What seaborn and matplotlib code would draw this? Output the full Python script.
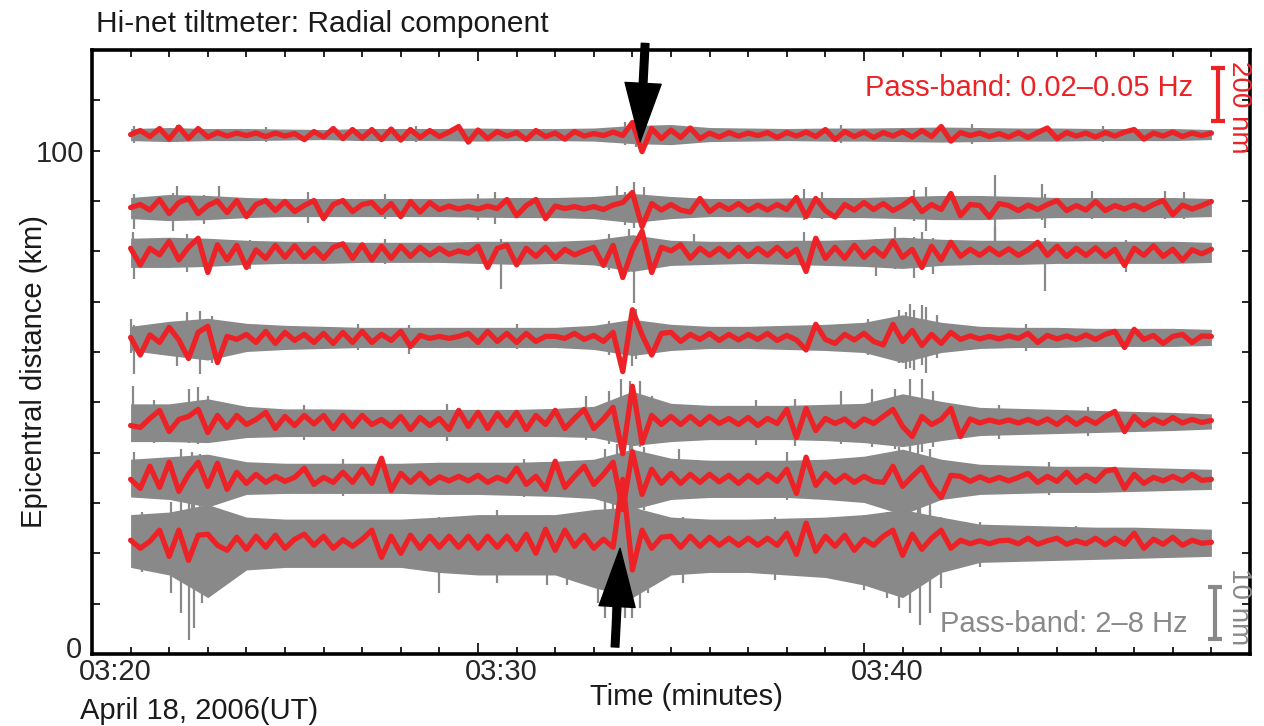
import numpy as np
import pandas as pd
import matplotlib
matplotlib.use("Agg")
import matplotlib.pyplot as plt
import matplotlib.transforms as mtransforms
from matplotlib.patches import FancyArrowPatch
import seaborn as sns

# ==================================================
# Hi-net tiltmeter record, radial component
# time is given in minutes after 03:20 UT
# ==================================================
station_dist = [103.2, 88.7, 79.8, 62.9, 46.2, 34.7, 22.2]   # km

red_start, red_step = 1.0, 0.25      # 0.02-0.05 Hz traces, one value per 15 s
env_start, env_step = 1.0, 1.0       # 2-8 Hz envelope, one value per minute

# long-period (0.02-0.05 Hz) traces, offset from the station distance
red_1 = [0, 0.8, -0.4, 1.2, -0.9, 1.5, -0.8, 1.2, -0.5, 0.4, -0.3, 0.3, -0.2, 0.3, -0.4, 0.3,
         -0.3, 0.2, -1.0, 0.6, -0.5, 1.2, -0.8, 1.0, -0.7, 1.0, -1.0, 1.1, -1.1, 1.0, -0.6, 0.8,
         -0.4, 0.5, 1.6, -1.5, 0.9, -0.8, 0.6, -0.3, 0.4, -1.0, 0.8, -0.4, 0.3, -0.9, 0.6, -0.3,
         0.2, -0.2, 0.5, -0.2, 2.4, -3.4, 1.2, -0.8, 0.9, -0.6, 1.3, -0.8, 0.3, -0.5, 0.4, -0.3,
         0.3, -0.2, 0.4, -0.6, 0.4, -0.3, 0.5, -0.4, 1.0, -1.0, 0.6, -0.4, 0.5, -0.6, 0.4, -0.3,
         0.6, -0.5, 0.8, -0.4, 1.6, -1.3, 0.4, -0.2, 0.3, -0.4, 0.2, -0.5, 0.4, -0.6, 0.4, 1.3,
         -0.8, 0.4, -0.3, 0.3, -0.5, 0.4, -0.3, 0.5, 1.0, -0.9, 0.3, -0.3, 0.5, -0.4, 0.3, -0.2,
         0.3]
red_2 = [0, 0.6, -0.5, 1.6, -1.2, 1.0, 1.8, -1.2, 0.4, 1.3, -1.0, 1.4, -1.8, 0.6, 1.4, -0.6,
         1.2, -0.8, 0.4, 1.4, -2.2, 0.6, 1.4, -0.8, 0.6, 1.0, -1.0, 0.8, -1.8, 1.2, -0.9, 1.0,
         -0.4, 0.3, -0.3, 0.2, -0.3, 0.3, -0.2, 1.6, -1.6, 0.4, 1.6, -2.2, 0.3, -0.2, 0.2, -0.3,
         0.2, -0.4, 0.5, 1.0, 3.0, -3.8, 0.8, -0.5, 0.6, -0.5, -0.9, 1.8, -0.8, 0.6, -0.4, 0.8,
         -0.6, 0.5, -0.5, 0.6, -0.4, 2.0, -1.8, 1.8, -0.6, -1.9, 0.6, -0.5, 1.0, -0.4, 0.8, -0.6,
         0.4, 1.8, -0.8, 0.6, -0.4, 2.8, -1.6, 0.6, 0.4, -1.9, 0.8, 0.4, -0.6, 0.5, -0.4, 0.6,
         1.4, -0.6, 0.4, -0.5, 1.2, -0.6, 0.4, -0.3, 0.5, -0.4, 0.6, 1.4, -1.4, 0.5, -0.3, 0.4,
         1.2]
red_3 = [0.8, -2.5, 0.8, -0.5, 2.2, -1.5, 1.0, 2.8, -4.0, 1.5, -1.5, 1.4, -3.0, 0.5, -1.2, 1.4,
         -1.0, 1.3, -1.0, 0.8, -1.2, 1.0, 1.7, -1.2, 1.5, -1.5, 1.2, -1.2, 1.2, -0.8, 1.0, -0.5,
         0.8, -0.4, 0.3, -0.2, 1.2, -3.0, 0.8, 1.4, -2.5, 0.8, -0.8, 1.0, -1.2, 0.6, -0.5, 0.3,
         1.0, -2.6, 1.4, -5.0, 0.5, 4.2, -4.0, 1.0, 0.3, 1.5, -1.2, 0.8, -0.6, 0.8, -0.8, 1.0,
         -0.8, 0.8, -0.6, 1.0, -0.8, 0.6, -3.8, 2.8, -1.2, 1.0, -1.2, 1.4, -1.0, 0.8, -0.8, 2.2,
         -1.0, 0.6, -3.0, 1.2, -1.5, 2.0, -0.8, 0.6, -0.6, 0.8, -0.5, 0.7, -0.6, 0.5, 2.0, -0.6,
         1.2, -0.8, 0.8, -0.6, 0.9, -0.8, 0.6, -2.6, 0.8, -0.6, 1.3, -0.8, 0.6, -1.6, 0.5, -0.3,
         0.6]
red_4 = [0, -3.5, 0.5, -1.0, 2.0, -0.5, -4.2, 1.0, 2.2, -5.0, 0.2, -0.4, 0.6, -1.0, 1.2, -1.2,
         1.0, -0.6, 0.6, -1.0, 0.8, -1.2, 1.0, -1.0, 1.2, -1.0, 0.6, -0.6, 1.2, -1.8, 0.4, -0.2,
         0.2, -0.2, 0.2, 0.8, -1.0, 1.2, -0.8, 0.8, -1.0, 0.8, -0.8, 0.2, 0.2, -0.2, 0.8, -0.4,
         0.4, -0.8, 1.0, -6.8, 5.5, 0.5, -3.5, 0.8, 1.0, -0.8, 0.6, -0.4, 0.8, -0.6, 0.6, -0.5,
         0.6, -0.4, 0.8, -0.6, 0.4, -0.5, -2.5, 2.6, -0.4, -1.2, 0.6, -0.5, 0.8, -0.8, -1.5, 2.6,
         -0.8, 1.4, -1.6, 0.6, -1.2, 1.0, -0.4, 0.3, -0.3, 0.2, -0.3, 0.3, -0.2, 0.8, -1.0, 0.4,
         -0.3, 0.3, -0.4, 0.5, -0.4, 0.6, 1.2, -2.0, 1.6, -0.4, 0.4, -1.2, 0.2, 0.6, -1.0, 0.3,
         0.2]
red_5 = [-0.8, -1.2, 0.6, 2.2, -2.0, 0.4, 1.0, 2.4, -2.2, 1.2, -1.2, 1.2, -0.6, 0.4, 1.8, -1.4,
         1.0, -0.8, 1.2, -0.5, 1.2, -1.4, 1.2, -1.0, 1.2, -0.6, 0.4, -1.0, 1.0, -1.6, 0.8, -0.8,
         0.6, -1.6, 2.2, -1.0, 1.8, -1.4, 1.6, -0.8, 1.8, -1.6, 1.2, -0.6, 2.2, -1.4, 0.6, 2.4,
         -1.4, 0.5, 2.8, -6.4, 7.0, -4.3, 1.2, -0.6, 1.0, -0.6, 1.0, -0.6, 1.0, -0.4, 0.6, -0.6,
         0.8, -0.8, 0.6, -0.4, 2.4, -3.2, 2.6, -1.8, 0.6, -0.4, 0.5, -1.0, 0.5, -0.4, 1.0, 2.4,
         -1.0, -3.0, 1.0, -0.6, 0.4, 2.6, -3.0, 0.5, -0.3, 0.3, -0.2, 0.3, -0.3, 0.4, -0.4, 0.5,
         -0.6, 0.8, -0.6, 0.6, -0.4, 1.0, 2.0, -2.0, 1.0, -0.8, 0.5, -0.4, 0.8, -0.3, 0.4, -0.2,
         0.2]
red_6 = [0, -1.8, 2.6, -1.6, 3.4, -2.4, 1.0, 3.4, -1.4, 3.2, -2.0, 1.4, -0.8, 1.0, -0.6, 0.6,
         -0.4, 0.4, 2.2, -1.0, 0.4, -0.6, 1.4, -0.6, 2.0, -0.8, 4.2, -2.2, 1.2, -0.6, 1.2, -0.8,
         0.5, -0.3, 0.6, -0.3, 0.8, -0.6, 0.4, -0.4, 2.2, -1.0, 0.6, -2.0, 3.6, -1.6, 0.6, 2.6,
         -1.0, 1.0, 3.4, -6.0, 5.5, -3.0, 2.0, -0.8, 1.2, -0.8, 1.0, -0.6, 1.0, -0.5, 0.8, -0.8,
         0.8, -0.6, 1.0, -0.4, 2.0, -2.8, 4.4, -1.2, 1.2, -0.6, 0.8, -0.6, 0.6, -0.4, -0.6, 2.6,
         -1.4, 0.6, 2.4, -1.2, -3.6, 0.8, 0.6, -0.4, 0.5, -0.3, 0.4, -0.3, 0.4, 1.2, -0.6, 0.6,
         -0.4, 1.4, -0.6, 0.8, -0.4, 1.6, 2.0, -1.8, 1.0, -0.8, 0.4, -0.3, 0.6, -0.3, 1.0, -0.2,
         0]
red_7 = [0.4, -1.2, 0.2, 2.4, -2.8, 2.4, -3.6, 1.4, 1.6, -0.6, -1.6, 1.0, -1.4, 1.2, -1.0, 1.4,
         -1.2, 0.6, 1.6, -0.6, 1.2, -1.2, 0.5, -0.8, 0.6, 2.4, -3.0, 1.2, -2.2, 1.4, -1.2, 1.2,
         -1.0, 1.2, -1.0, 1.2, -1.2, 1.2, -1.0, 1.2, -1.4, 1.6, -2.2, 2.6, -1.6, 2.4, -0.8, 1.4,
         -1.2, 0.6, -1.0, 12.5, -5.5, 2.4, -1.2, 1.0, 1.2, -1.0, 1.2, -0.8, 1.0, -0.6, 0.8, -0.6,
         0.8, -0.6, 0.8, -0.6, 1.8, -2.4, 3.8, -1.8, 1.2, -0.8, 1.4, -1.6, 0.6, -0.6, 1.2, 2.4,
         -2.6, 1.6, -1.4, 0.8, 2.4, -1.2, 0.4, -0.3, 0.3, -0.3, 0.3, 0.4, -0.3, 0.8, -0.4, 0.3,
         0.8, -0.4, 0.3, -0.3, 0.8, -0.5, 0.8, -0.4, 1.8, -1.2, 0.6, -0.4, 1.0, -0.6, 0.4, -0.2,
         0]

# short-period (2-8 Hz) band: upper / lower extent per minute
up_1 = [1.2, 1.4, 1.2, 1.2, 1.1, 1.0, 1.2, 1.2, 1.2, 1.3, 1.2, 1.2, 1.3, 1.8, 2.0, 1.4, 1.3, 1.2, 1.3, 1.3, 1.4, 1.5, 1.4, 1.3, 1.3, 1.2, 1.2, 1.2, 1.0]
dn_1 = [1.2, 1.4, 1.2, 1.2, 1.1, 1.0, 1.2, 1.2, 1.2, 1.3, 1.2, 1.2, 1.3, 1.8, 2.0, 1.4, 1.3, 1.2, 1.3, 1.3, 1.4, 1.5, 1.4, 1.3, 1.3, 1.2, 1.2, 1.2, 1.0]
up_2 = [2.0, 2.6, 2.4, 2.0, 1.8, 1.8, 1.8, 1.8, 1.8, 1.9, 2.0, 2.0, 2.2, 2.8, 2.2, 1.8, 1.8, 1.9, 2.0, 2.0, 2.2, 2.4, 2.4, 2.2, 2.0, 2.0, 2.0, 2.0, 1.8]
dn_2 = [2.2, 2.6, 2.4, 2.0, 1.8, 1.8, 1.8, 1.8, 1.8, 1.9, 2.0, 2.0, 2.2, 3.0, 2.2, 1.8, 1.8, 1.9, 2.0, 2.0, 2.2, 2.4, 2.4, 2.2, 2.0, 2.0, 2.0, 2.0, 1.8]
up_3 = [2.8, 3.0, 2.8, 2.4, 2.2, 2.2, 2.0, 2.0, 2.0, 2.2, 2.2, 2.2, 2.5, 3.5, 2.4, 2.2, 2.2, 2.4, 2.4, 2.6, 3.0, 2.6, 2.4, 2.4, 2.2, 2.2, 2.2, 2.2, 2.0]
dn_3 = [3.0, 3.0, 2.8, 2.4, 2.2, 2.2, 2.0, 2.0, 2.0, 2.2, 2.4, 2.2, 2.5, 3.8, 2.6, 2.4, 2.2, 2.4, 2.6, 2.8, 3.2, 2.6, 2.4, 2.4, 2.2, 2.2, 2.2, 2.2, 2.0]
up_4 = [2.2, 3.2, 3.8, 2.8, 2.4, 2.2, 2.0, 2.0, 2.0, 2.0, 2.0, 2.0, 2.4, 3.6, 2.6, 2.2, 2.2, 2.4, 2.6, 3.0, 4.5, 3.0, 2.2, 2.0, 2.0, 1.8, 1.8, 1.8, 1.6]
dn_4 = [2.6, 3.6, 4.5, 2.8, 2.4, 2.2, 2.0, 2.0, 2.0, 2.0, 2.0, 2.0, 2.4, 3.6, 2.6, 2.2, 2.2, 2.4, 2.6, 3.0, 5.0, 3.0, 2.2, 2.0, 2.0, 1.8, 1.8, 1.8, 1.6]
up_5 = [3.5, 3.5, 4.5, 3.0, 2.5, 2.5, 2.4, 2.4, 2.4, 2.4, 2.4, 2.6, 3.0, 6.0, 3.6, 3.2, 3.2, 3.2, 3.4, 3.6, 5.5, 4.0, 2.8, 2.6, 2.4, 2.2, 2.0, 1.8, 1.5]
dn_5 = [4.0, 4.0, 4.2, 3.2, 3.0, 3.0, 3.0, 3.0, 3.0, 3.0, 3.0, 3.0, 3.2, 4.8, 4.0, 3.6, 3.6, 3.6, 3.8, 4.2, 5.0, 3.8, 2.8, 2.6, 2.4, 2.2, 2.0, 1.8, 1.5]
up_6 = [4.0, 4.5, 5.0, 3.5, 3.2, 3.2, 3.2, 3.2, 3.4, 3.4, 3.4, 3.6, 4.0, 6.0, 4.2, 3.8, 3.8, 3.8, 4.0, 4.6, 6.0, 4.0, 3.0, 2.8, 2.6, 2.6, 2.4, 2.2, 2.0]
dn_6 = [3.5, 4.0, 5.5, 3.0, 2.8, 2.8, 2.8, 2.8, 3.0, 3.0, 3.2, 3.4, 3.8, 6.0, 4.0, 3.6, 3.6, 3.6, 4.0, 4.6, 7.0, 4.0, 3.0, 2.8, 2.6, 2.6, 2.4, 2.2, 2.0]
up_7 = [5.5, 6.0, 7.5, 5.0, 4.6, 4.6, 4.6, 4.6, 5.0, 5.5, 5.5, 5.5, 6.5, 7.0, 5.0, 4.6, 4.6, 4.8, 5.0, 5.5, 6.5, 5.0, 3.6, 3.4, 3.2, 3.0, 3.0, 2.8, 2.6]
dn_7 = [5.0, 6.5, 11.0, 5.5, 5.0, 5.0, 5.0, 5.0, 6.0, 6.5, 6.5, 6.5, 9.0, 11.0, 6.5, 6.0, 6.0, 6.5, 7.0, 8.5, 11.0, 6.0, 4.0, 3.8, 3.6, 3.4, 3.2, 3.0, 2.8]

# isolated 2-8 Hz spikes, one row per station: minute, top, bottom (offset from trace)
spk_t_1 = [1.1, 2.2, 4.5, 8.4, 13.8, 14.1, 19.4, 22.8, 26.2]
spk_hi_1 = [1.8, 1.9, 1.6, 1.7, 2.4, 2.8, 1.9, 2.0, 1.7]
spk_lo_1 = [-1.6, -1.5, -1.4, -1.5, -2.0, -2.4, -1.6, -1.8, -1.5]
spk_t_2 = [1.1, 2.1, 2.2, 2.9, 3.3, 5.6, 7.6, 10.0, 10.45, 13.6, 13.8, 14.05, 14.3, 18.45, 18.9,
           21.3, 21.6, 23.4, 24.6, 24.7, 25.9, 27.8, 28.3]
spk_hi_2 = [2.6, 2.8, 4.3, 2.4, 4.3, 3.0, 2.7, 2.7, 3.0, 4.3, 3.0, 5.0, 4.0, 3.7, 3.0,
            3.4, 4.0, 6.5, 4.7, 2.6, 3.2, 3.2, 3.0]
spk_lo_2 = [-4.3, -4.7, -2.0, -3.2, -2.0, -3.0, -2.2, -2.4, -3.2, -2.6, -3.5, -4.0, -3.5, -2.4, -2.2,
            -2.6, -4.7, -7.3, -2.4, -4.0, -2.2, -2.2, -2.2]
spk_t_3 = [1.05, 1.1, 2.45, 2.8, 4.1, 7.6, 10.6, 13.4, 13.9, 14.05, 15.6, 18.45, 20.3, 20.8, 21.3,
           21.5, 21.8, 23.4, 24.7, 26.8]
spk_hi_3 = [4.0, 2.6, 3.7, 2.6, 2.4, 2.7, 2.6, 3.7, 4.7, 3.0, 3.7, 4.0, 2.6, 5.0, 3.0,
            4.0, 2.8, 5.0, 2.8, 2.4]
spk_lo_3 = [-3.0, -5.3, -4.0, -3.0, -3.3, -2.4, -7.3, -3.6, -4.0, -10.0, -2.6, -3.0, -4.7, -3.4, -5.0,
            -3.6, -4.4, -2.6, -7.7, -4.0]
spk_t_4 = [1.0, 1.1, 2.2, 2.45, 2.8, 3.1, 6.9, 8.2, 11.0, 13.4, 14.0, 14.1, 20.1, 20.9, 21.1,
           21.2, 21.3, 21.5, 21.6, 21.9, 24.2]
spk_hi_4 = [3.7, 2.4, 3.0, 5.0, 5.3, 4.2, 2.7, 2.4, 2.7, 3.3, 4.0, 5.7, 3.7, 5.5, 5.0,
            6.7, 5.5, 6.5, 6.0, 4.5, 2.6]
spk_lo_4 = [-3.0, -7.3, -5.7, -4.0, -7.3, -5.0, -2.6, -3.3, -2.4, -3.4, -5.7, -4.2, -3.4, -5.0, -6.3,
            -6.0, -6.5, -5.5, -7.0, -4.0, -2.8]
spk_t_5 = [1.05, 1.6, 2.5, 2.75, 3.0, 5.5, 9.2, 12.8, 13.4, 13.7, 13.95, 14.2, 14.5, 17.2, 18.2,
           19.4, 20.2, 20.8, 21.2, 21.5, 21.8, 23.5, 25.8]
spk_hi_5 = [7.0, 4.2, 6.5, 6.8, 5.0, 3.2, 3.4, 5.0, 6.0, 8.5, 8.0, 8.0, 5.0, 4.2, 4.5,
            6.0, 6.5, 6.5, 8.5, 8.5, 6.0, 3.2, 2.8]
spk_lo_5 = [-3.5, -4.2, -4.2, -4.5, -4.0, -3.6, -3.8, -3.6, -4.5, -5.0, -6.0, -5.0, -4.5, -4.6, -4.8,
            -4.4, -5.0, -5.5, -5.5, -6.0, -5.0, -3.4, -2.8]
spk_t_6 = [1.1, 2.3, 2.6, 2.8, 6.5, 11.2, 13.3, 13.6, 14.0, 14.3, 15.2, 18.0, 20.9, 21.2, 21.4,
           21.7, 24.8]
spk_hi_6 = [5.5, 6.0, 5.5, 5.0, 4.0, 4.0, 6.0, 7.0, 7.5, 6.5, 6.0, 5.5, 6.5, 6.5, 7.0,
            6.0, 3.4]
spk_lo_6 = [-3.5, -4.0, -9.0, -8.0, -3.4, -3.6, -6.0, -7.0, -6.5, -6.0, -4.0, -4.2, -6.0, -8.0, -8.0,
            -7.5, -3.2]
spk_t_7 = [1.3, 2.05, 2.3, 2.5, 2.65, 2.85, 3.1, 9.0, 10.5, 11.8, 12.3, 13.1, 13.3, 13.5, 13.65,
           13.8, 14.0, 14.2, 14.4, 15.3, 17.7, 20.0, 20.6, 20.9, 21.2, 21.45, 21.7, 22.0, 23.0, 25.5]
spk_hi_7 = [6.0, 8.0, 9.0, 10.0, 8.0, 7.0, 6.0, 5.0, 6.5, 5.5, 5.5, 6.0, 8.0, 8.0, 9.0,
            7.0, 7.0, 6.0, 5.0, 5.0, 5.0, 5.5, 6.0, 7.0, 7.5, 7.0, 6.5, 5.0, 4.0, 3.2]
spk_lo_7 = [-6.0, -10.0, -14.0, -19.5, -17.0, -12.0, -8.0, -10.0, -8.0, -8.5, -8.5, -12.0, -15.0, -16.0, -17.0,
            -15.0, -15.0, -13.0, -10.0, -8.0, -7.5, -9.5, -11.0, -13.0, -14.0, -16.5, -14.0, -9.0, -5.0, -3.6]

tick_minutes = [0, 10, 20, 30]
tick_names = ["03:20", "03:30", "03:40", ""]

red_c = "#ec2227"
gray_c = "#898989"

sns.set_theme(style="ticks")
plt.rcParams["font.family"] = ["Liberation Sans", "DejaVu Sans"]
plt.rcParams["font.size"] = 21

reds = [red_1, red_2, red_3, red_4, red_5, red_6, red_7]
ups = [up_1, up_2, up_3, up_4, up_5, up_6, up_7]
dns = [dn_1, dn_2, dn_3, dn_4, dn_5, dn_6, dn_7]
spikes = [(spk_t_1, spk_hi_1, spk_lo_1), (spk_t_2, spk_hi_2, spk_lo_2), (spk_t_3, spk_hi_3, spk_lo_3),
          (spk_t_4, spk_hi_4, spk_lo_4), (spk_t_5, spk_hi_5, spk_lo_5), (spk_t_6, spk_hi_6, spk_lo_6),
          (spk_t_7, spk_hi_7, spk_lo_7)]

rows = []
for k, (d, vals) in enumerate(zip(station_dist, reds)):
    for i, v in enumerate(vals):
        rows.append({"station": k, "minute": red_start + i * red_step, "tilt": d + v})
red_df = pd.DataFrame(rows)

fig = plt.figure(figsize=(12.64, 7.26), dpi=100)
ax = fig.add_axes([92 / 1264, 72 / 726, 1158 / 1264, 604 / 726])

# gray 2-8 Hz band
for d, up, dn, (st, sh, sl) in zip(station_dist, ups, dns, spikes):
    t_env = env_start + env_step * np.arange(len(up))
    ax.fill_between(t_env, d + np.array(up), d - np.array(dn), color=gray_c, lw=0, zorder=1)
    ax.vlines(st, d + np.array(sl), d + np.array(sh), color=gray_c, lw=1.6, zorder=1)

# red 0.02-0.05 Hz traces
sns.lineplot(data=red_df, x="minute", y="tilt", units="station", estimator=None,
             sort=False, color=red_c, lw=3.8, ax=ax, zorder=3,
             solid_joinstyle="round", solid_capstyle="round")

ax.set_xlim(0, 30)
ax.set_ylim(0, 120)
ax.set_xlabel("")
ax.set_ylabel("")

ax.set_xticks(tick_minutes, tick_names)
ax.set_xticks(np.arange(0, 31, 1), minor=True)
ax.set_yticks(np.arange(0, 121, 10))
ax.set_yticklabels(["0" if v == 0 else "100" if v == 100 else "" for v in range(0, 121, 10)])
ax.tick_params(axis="both", which="both", direction="in", top=True, right=True,
               width=1.2, color="black", labelsize=21, pad=6)
ax.tick_params(axis="x", which="major", length=8, pad=3)
ax.tick_params(axis="x", which="minor", length=5)
ax.tick_params(axis="y", which="major", length=6)
for s in ax.spines.values():
    s.set_linewidth(2.6)
    s.set_color("black")

shift = mtransforms.ScaledTranslation(0.23, 0, fig.dpi_scale_trans)
for lbl in ax.get_xticklabels():
    lbl.set_transform(lbl.get_transform() + shift)
# the "0" label sits a little above the bottom spine
zero_lbl = ax.get_yticklabels()[0]
zero_lbl.set_transform(zero_lbl.get_transform() +
                       mtransforms.ScaledTranslation(-0.02, 0.07, fig.dpi_scale_trans))

# arrows marking the event
for tail, head in [((14.33, 121.3), (14.2, 101.8)), ((13.55, 1.4), (13.68, 21.0))]:
    arr = FancyArrowPatch(tail, head, arrowstyle="simple,head_length=42,head_width=26,tail_width=5.5",
                          mutation_scale=1, color="black", shrinkA=0, shrinkB=0,
                          clip_on=False, zorder=6)
    ax.add_patch(arr)

# pass-band annotations and scale bars
ax.text(28.53, 112.5, "Pass-band: 0.02\u20130.05 Hz", color=red_c, ha="right", va="center", fontsize=21)
ax.errorbar([29.17], [111.2], yerr=[5.3], color=red_c, lw=3, capsize=5, capthick=3, clip_on=False)
ax.text(29.72, 108.7, "200 nm", color=red_c, rotation=270, ha="center", va="center",
        fontsize=20, clip_on=False)

ax.text(28.38, 5.9, "Pass-band: 2\u20138 Hz", color=gray_c, ha="right", va="center", fontsize=21)
ax.errorbar([29.1], [8.2], yerr=[5.2], color=gray_c, lw=3, capsize=5, capthick=3, clip_on=False)
ax.text(29.72, 9.4, "10 nm", color=gray_c, rotation=270, ha="center", va="center",
        fontsize=20, clip_on=False)

fig.text(96 / 1264, 1 - 24 / 726, "Hi-net tiltmeter: Radial component", ha="left", va="center",
         fontsize=21.5, color="#1a1a1a")
fig.text(34 / 1264, 1 - 372 / 726, "Epicentral distance (km)", rotation=90, ha="center",
         va="center", fontsize=21, color="#1a1a1a")
fig.text(686 / 1264, 1 - 697 / 726, "Time (minutes)", ha="center", va="center",
         fontsize=21, color="#1a1a1a")
fig.text(80 / 1264, 1 - 711 / 726, "April 18, 2006(UT)", ha="left", va="center",
         fontsize=21, color="#1a1a1a")

fig.savefig("out.png", dpi=100)
